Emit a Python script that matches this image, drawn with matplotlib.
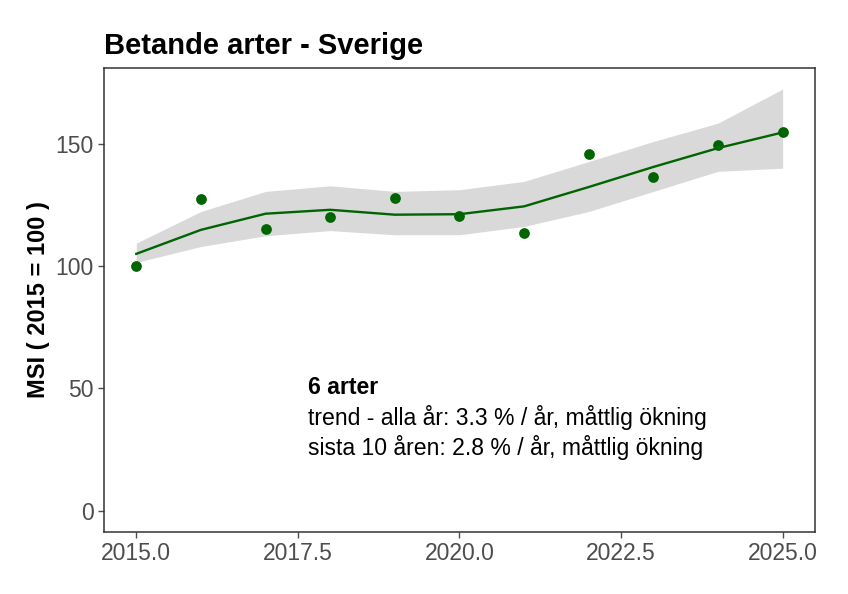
import matplotlib.pyplot as plt
import numpy as np

plt.rcParams['font.family'] = ['Liberation Sans', 'DejaVu Sans']

years = np.arange(2015, 2026)
msi = [100.0, 127.6, 115.2, 119.9, 128.0, 120.6, 113.5, 145.6, 136.2, 149.6, 154.6]
trend = [105.0, 114.8, 121.4, 123.0, 121.0, 121.2, 124.4, 132.3, 140.5, 148.2, 154.6]
upper = [109.4, 122.3, 130.5, 132.8, 130.5, 131.2, 134.6, 142.7, 150.9, 158.4, 172.3]
lower = [101.5, 108.0, 112.4, 114.5, 112.8, 112.8, 116.2, 122.3, 130.5, 138.7, 140.0]

title = "Betande arter - Sverige"
ylabel = "MSI ( 2015 = 100 )"
note_lines = ["6 arter",
              "trend - alla år: 3.3 % / år, måttlig ökning",
              "sista 10 åren: 2.8 % / år, måttlig ökning"]
xticks = [2015.0, 2017.5, 2020.0, 2022.5, 2025.0]
yticks = [0, 50, 100, 150]

fig = plt.figure(figsize=(8.48, 5.94), dpi=100)
ax = fig.add_axes([0.1226, 0.1044, 0.8384, 0.7811])

ax.fill_between(years, lower, upper, color="#d9d9d9", linewidth=0)
ax.plot(years, trend, color="#006400", linewidth=1.7)
ax.scatter(years, msi, color="#006400", s=45, zorder=3)

ymax = max(upper)
ax.set_ylim(-0.05 * ymax, ymax * 1.05)
ax.set_xlim(2014.5, 2025.5)
ax.set_xticks(xticks)
ax.set_xticklabels(["%.1f" % t for t in xticks])
ax.set_yticks(yticks)

ax.tick_params(colors="#4d4d4d", labelsize=16.5, length=4, width=1)
for s in ax.spines.values():
    s.set_color("#333333")
    s.set_linewidth(1.1)

ax.set_title(title, loc="left", fontsize=21, fontweight="bold", pad=10)
ax.set_ylabel(ylabel, fontsize=17, fontweight="bold", labelpad=4)

note_y = [50.3, 38.0, 25.7]
for i, line in enumerate(note_lines):
    ax.text(2017.66, note_y[i], line, fontsize=16.6, va="center", ha="left",
            fontweight="bold" if i == 0 else "normal")

fig.savefig("out.png", dpi=100)
